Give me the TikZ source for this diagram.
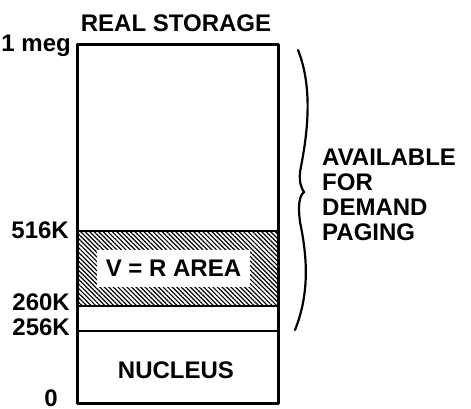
\documentclass[tikz,border=0pt]{standalone}
\usepackage{fontspec}
\setmainfont{Liberation Sans Bold}
\usetikzlibrary{patterns.meta, positioning}

\begin{document}
\begin{tikzpicture}[x=1pt, y=-1pt, font=\fontsize{24}{24.7}\selectfont]
    \tikzstyle{addr} = [anchor=base east, inner sep=0pt]
    \tikzstyle{caption} = [anchor=base, inner sep=0pt]
    \tikzstyle{divider} = [line width=2.2pt]
    \tikzstyle{outline} = [line width=3pt, line join=round]

    \useasboundingbox (0,0) rectangle (471,409);

    % corners of the storage box
    \coordinate (tl) at (77,45);
    \coordinate (br) at (278,403);

    \fill [pattern={Lines[angle=-45, distance=3.2pt, line width=1.2pt]}] (77,231) rectangle (278,306);
    \node (vr) [fill=white, minimum width=153pt, minimum height=37pt, inner sep=0pt] at (173.5,268.5) {V = R AREA};

    \draw [divider] (77,231) -- (278,231);
    \draw [divider] (77,306) -- (278,306);
    \draw [divider] (77,331) -- (278,331);
    \draw [outline] (tl) rectangle (br);

    \node (title) [caption] at (176,32) {REAL STORAGE};
    \node (nucleus) [caption] at (176,378) {NUCLEUS};

    \node (meg) [addr] at (71,52) {1 meg};
    \node (k516) [addr] at (69,238) {516K};
    \node (k260) [addr] at (70,310) {260K};
    \node (k256) [addr] at (70,335) {256K};
    \node (zero) [addr] at (58,406) {0};

    % brace over the pageable part
    \draw [line width=2.2pt, line cap=round]
        (298,50) .. controls (316,95) and (304,150) .. (300,172)
        .. controls (299,184) and (302,189) .. (304,192)
        .. controls (299,196) and (298,206) .. (300,222)
        .. controls (308,260) and (309,295) .. (295,330);

    \node (avail) [anchor=base west, align=left, inner sep=0pt] at (322,240) {AVAILABLE\\FOR\\DEMAND\\PAGING};
\end{tikzpicture}
\end{document}
